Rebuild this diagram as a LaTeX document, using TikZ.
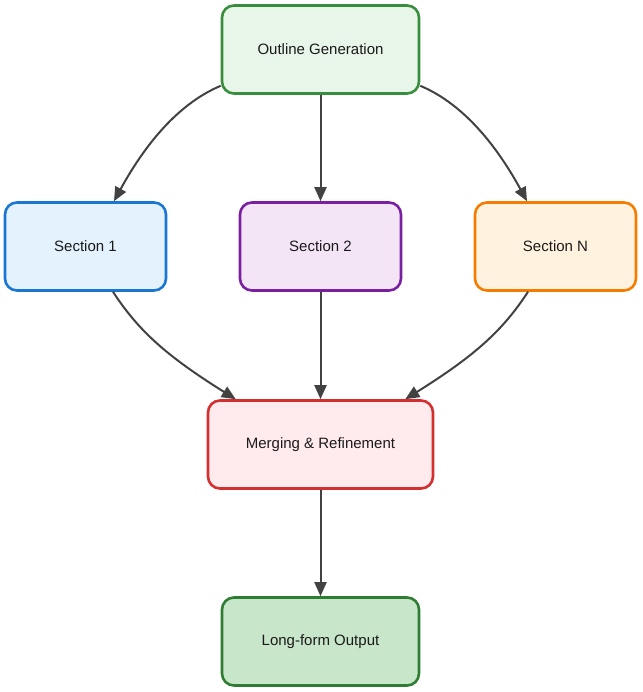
\documentclass[tikz,border=0pt]{standalone}
\usepackage{fontspec}
\setmainfont{Liberation Sans}
\usetikzlibrary{arrows.meta,calc}
\definecolor{edgec}{HTML}{424242}
\definecolor{txtc}{HTML}{1A1A1A}
\definecolor{ogf}{HTML}{E8F5E9}\definecolor{ogd}{HTML}{388E3C}
\definecolor{s1f}{HTML}{E3F2FD}\definecolor{s1d}{HTML}{1976D2}
\definecolor{s2f}{HTML}{F3E5F5}\definecolor{s2d}{HTML}{7B1FA2}
\definecolor{snf}{HTML}{FFF3E0}\definecolor{snd}{HTML}{F57C00}
\definecolor{mgf}{HTML}{FFEBEE}\definecolor{mgd}{HTML}{D32F2F}
\definecolor{lof}{HTML}{C8E6C9}\definecolor{lod}{HTML}{2E7D32}
\tikzset{
  box/.style={rectangle, rounded corners=12pt, line width=2.6pt, minimum height=88pt,
    inner sep=0pt, text=txtc, font=\fontsize{15pt}{17pt}\selectfont},
  conn/.style={draw=edgec, line width=2pt, -{Triangle[length=14pt,width=12pt]}},
}
\begin{document}
\begin{tikzpicture}[x=1pt,y=-1pt]
\useasboundingbox (0,0) rectangle (642,692);
\node[box, draw=ogd, fill=ogf, minimum width=197pt] (og) at (320.5,49.5) {Outline Generation};
\node[box, draw=s1d, fill=s1f, minimum width=161pt] (s1) at (85.5,246.5) {Section 1};
\node[box, draw=s2d, fill=s2f, minimum width=161pt] (s2) at (320.5,246.5) {Section 2};
\node[box, draw=snd, fill=snf, minimum width=161pt] (sn) at (555.5,246.5) {Section N};
\node[box, draw=mgd, fill=mgf, minimum width=225pt] (mg) at (320.5,444.5) {Merging \& Refinement};
\node[box, draw=lod, fill=lof, minimum width=197pt] (lo) at (320.5,641.5) {Long-form Output};

\coordinate (a1) at ($(og.south west)+(0,-9)$);
\coordinate (a2) at ($(og.south east)+(0,-9)$);
\coordinate (b1) at ($(s1.north)+(28.5,0)$);
\coordinate (bn) at ($(sn.north)+(-28.5,0)$);
\coordinate (c1) at ($(s1.south)+(27.5,0)$);
\coordinate (cn) at ($(sn.south)+(-27.5,0)$);
\coordinate (d1) at ($(mg.north west)+(29,0)$);
\coordinate (dn) at ($(mg.north east)+(-29,0)$);

\draw[conn] (a1) .. controls (175,105) and (142,150) .. (b1);
\draw[conn] (a2) .. controls (466,105) and (499,150) .. (bn);
\draw[conn] (og) -- (s2);
\draw[conn] (c1) .. controls (138,330) and (165,355) .. (d1);
\draw[conn] (cn) .. controls (503,330) and (476,355) .. (dn);
\draw[conn] (s2) -- (mg);
\draw[conn] (mg) -- (lo);
\end{tikzpicture}
\end{document}
